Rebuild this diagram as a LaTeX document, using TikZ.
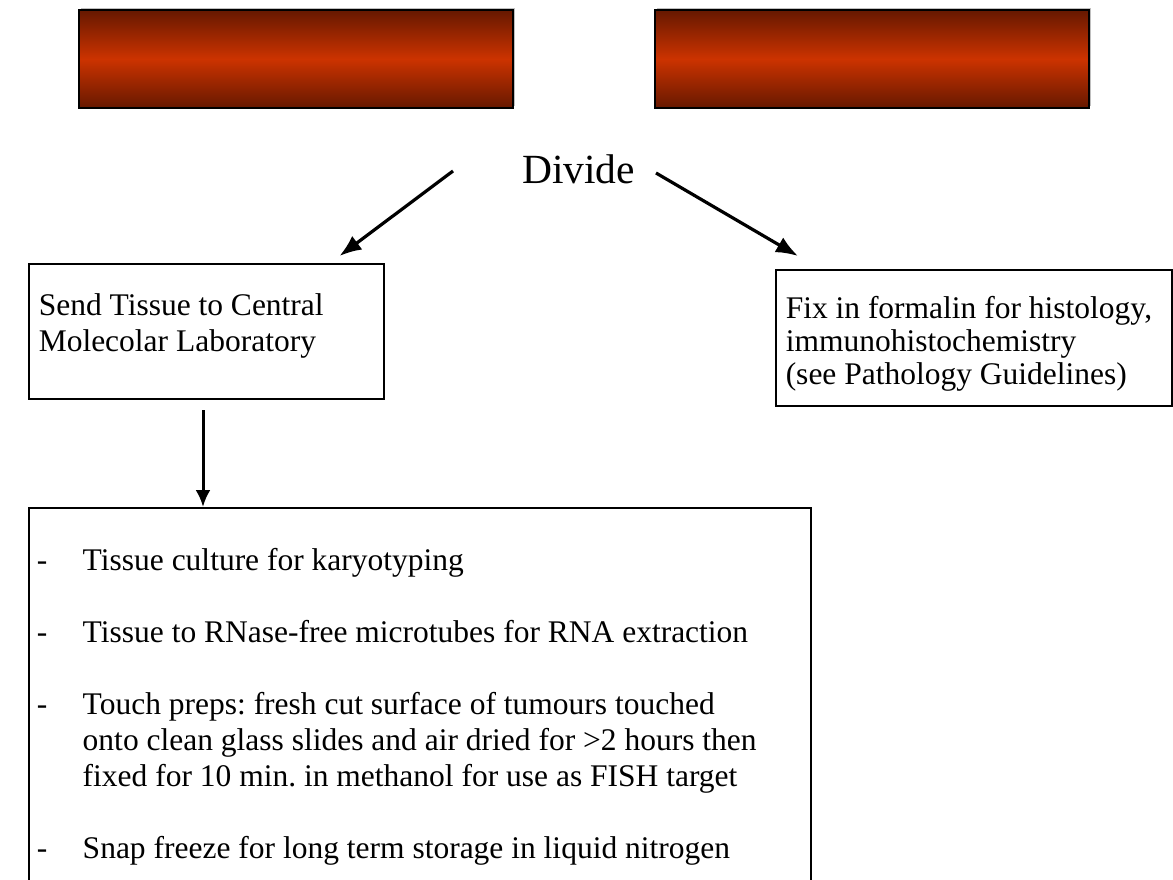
\documentclass[tikz,border=0pt]{standalone}
\usepackage{fontspec}
\setmainfont{Liberation Serif}
\usepackage{tikz}
\usetikzlibrary{arrows.meta}
\usetikzlibrary{positioning}
\usetikzlibrary{shadows}
\definecolor{bar dark}{HTML}{661800}
\definecolor{bar red}{HTML}{CC3300}
\tikzset{>=latex}
\tikzstyle{banner}=[draw=black,line width=2,top color=bar dark,bottom color=bar dark,
                    middle color=bar red,minimum height=98,minimum width=434,inner sep=0,
                    anchor=north west,
                    drop shadow={shadow xshift=1.5,shadow yshift=-1.5,fill=gray!50,opacity=1}]
\tikzstyle{lab box}=[draw=black,line width=1.5,anchor=north west,inner sep=0]
\tikzstyle{split}=[-{Latex[length=22,width=17]},line width=3.2]
\tikzstyle{drop}=[-{Latex[length=17,width=15]},line width=3]
\newcommand\taskitem[1]{\par\noindent\hangindent=54pt\hangafter=1%
  \makebox[54pt][l]{\hspace{8pt}-}#1\par}
\frenchspacing

\begin{document}
\begin{tikzpicture}[x=1pt,y=-1pt]
        \useasboundingbox (0,0) rectangle (1173,880);
        \fontsize{31.5}{36}\selectfont

        % BANNERS
        \node[banner] (bar L) at (78,9) {};
        \node[banner] (bar R) at (654,9) {};

        % DIVIDE
        \node[font=\fontsize{41.5}{45}\selectfont,anchor=base west,inner sep=0]
             (divide) at (522,183) {Divide};
        \coordinate (cut L) at (453,171); % start of left arrow
        \coordinate (cut R) at (656,173); % start of right arrow

        % BOXES
        \node[lab box] (send) at (28,263) {\parbox[c][135pt][t]{355pt}{\raggedright
             \leftskip=10pt\vspace*{26.8pt}%
             \strut Send Tissue to Central\\Molecolar Laboratory}};
        \node[lab box] (fix) at (775,269) {\parbox[c][136pt][t]{396pt}{\raggedright
             \fontsize{31.5}{33}\selectfont\leftskip=10pt\vspace*{26.5pt}%
             Fix in formalin for histology,\\immunohistochemistry\\(see Pathology Guidelines)}};
        \node[lab box] (tasks) at (28,507) {\parbox[c][380pt][t]{782pt}{\raggedright
             \vspace*{37.8pt}%
             \taskitem{\strut Tissue culture for karyotyping}\vspace{36pt}
             \taskitem{Tissue to RNase-free microtubes for RNA extraction}\vspace{36pt}
             \taskitem{Touch preps: fresh cut surface of tumours touched\newline
                       onto clean glass slides and air dried for >2 hours then\newline
                       fixed for 10 min. in methanol for use as FISH target}\vspace{36pt}
             \taskitem{Snap freeze for long term storage in liquid nitrogen}}};

        % ARROWS
        \draw[split] (cut L) -- ([shift={(-45,-7)}]send.north east);
        \draw[split] (cut R) -- ([shift={(23,-13)}]fix.north west);
        \coordinate (drop top) at (203,410);
        \draw[drop] (drop top) -- (drop top |- tasks.north);

\end{tikzpicture}
\end{document}
